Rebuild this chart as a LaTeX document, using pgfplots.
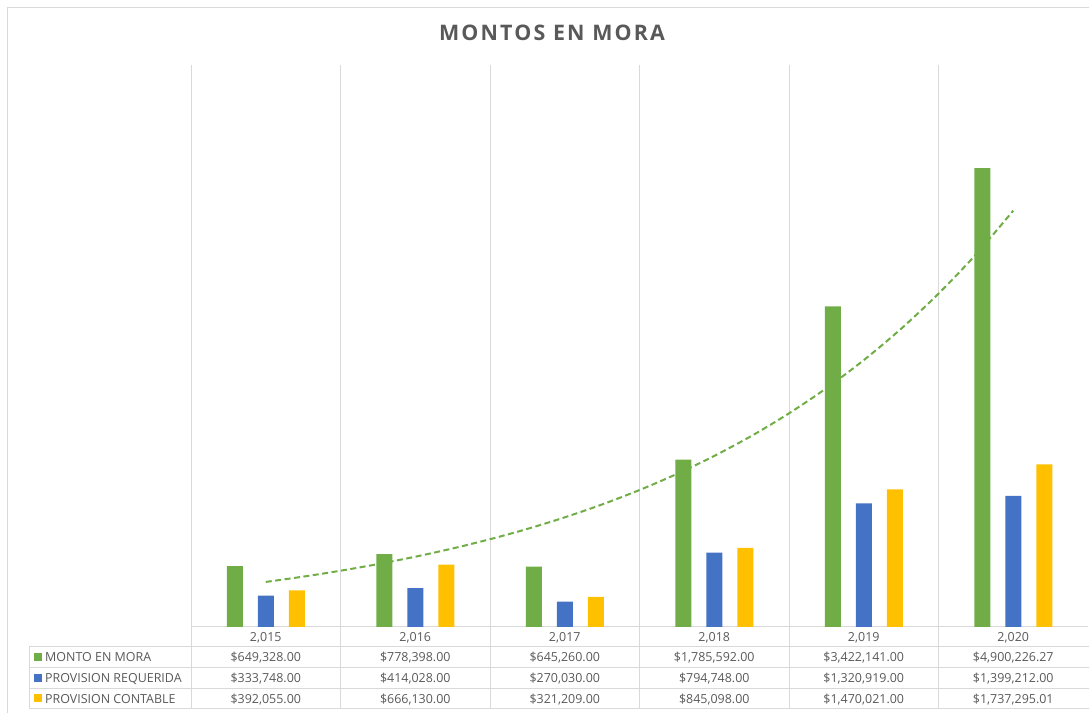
\documentclass[border=0pt]{standalone}
\usepackage{pgfplots}
\pgfplotsset{compat=1.18}
\usepackage{fontspec}
\setmainfont{Open Sans}
\newfontfamily\titlefont[LetterSpace=10.0]{Open Sans}
\definecolor{mgreen}{HTML}{70AD47}
\definecolor{mblue}{HTML}{4472C4}
\definecolor{mgold}{HTML}{FFC000}
\definecolor{gridgray}{HTML}{D9D9D9}
\definecolor{txtgray}{HTML}{595959}
\begin{document}
\begin{tikzpicture}[x=1bp,y=1bp]
\path[use as bounding box] (0,0) rectangle (1089,713);
\draw[gridgray, line width=1bp] (7.5,0) -- (7.5,705.5) -- (1089,705.5);
\node[text=txtgray, font=\titlefont\bfseries\fontsize{21.5}{25}\selectfont, anchor=base] at (552,672.5) {MONTOS EN MORA};
\begin{axis}[
  at={(191bp,86bp)}, anchor=south west,
  scale only axis, width=897bp, height=562bp,
  xmin=0.5, xmax=6.5, ymin=0, ymax=6000000,
  axis x line=bottom, axis y line=none,
  x axis line style={draw=gridgray, line width=1bp, -},
  ytick=\empty,
  xtick={1,2,3,4,5,6},
  xticklabels={{2,015},{2,016},{2,017},{2,018},{2,019},{2,020}},
  major tick length=0, minor tick length=0,
  minor xtick={0.5,1.5,2.5,3.5,4.5,5.5},
  xminorgrids, minor grid style={gridgray, line width=1bp},
  xticklabel style={anchor=base, yshift=-14.5bp, text=txtgray, font=\fontsize{12.5}{15}\selectfont},
  clip=false,
]
\addplot[ybar, bar width=16bp, bar shift=-31bp, fill=mgreen, draw=none] coordinates {(1,649328) (2,778398) (3,645260) (4,1785592) (5,3422141) (6,4900226.27)};
\addplot[ybar, bar width=16bp, bar shift=0bp, fill=mblue, draw=none] coordinates {(1,333748) (2,414028) (3,270030) (4,794748) (5,1320919) (6,1399212)};
\addplot[ybar, bar width=16bp, bar shift=31bp, fill=mgold, draw=none] coordinates {(1,392055) (2,666130) (3,321209) (4,845098) (5,1470021) (6,1737295.01)};
% exponential trendline of MONTO EN MORA (fitted values)
\addplot[mgreen, line width=2bp, dash pattern=on 6bp off 3.5bp, smooth, no markers] coordinates {
(1,480930) (1.25,537500) (1.5,600700) (1.75,671350) (2,750270) (2.25,838530) (2.5,937170) (2.75,1047400) (3,1170600) (3.25,1308300) (3.5,1462200) (3.75,1634000) (4,1826200) (4.25,2041000) (4.5,2281000) (4.75,2549300) (5,2849000) (5.25,3184100) (5.5,3558800) (5.75,3977000) (6,4445100)};
\end{axis}
% data table
\begin{scope}[gridgray, line width=1bp]
\draw (29,66) -- (1089,66);
\draw (29,45) -- (1089,45);
\draw (29,24) -- (1089,24);
\draw (29,4) -- (1089,4);
\draw (29,66) -- (29,4);
\foreach \X in {191,340.5,490,639.5,789,938.5} {\draw (\X,86) -- (\X,4);}
\end{scope}
\fill[mgreen] (34,52) rectangle (42,60);
\fill[mblue] (34,31) rectangle (42,39);
\fill[mgold] (34,10.5) rectangle (42,18.5);
\begin{scope}[every node/.style={text=txtgray, font=\fontsize{12.5}{15}\selectfont, inner sep=0pt}]
\node[anchor=base west] at (45,51) {MONTO EN MORA};
\node[anchor=base west] at (45,30) {PROVISION REQUERIDA};
\node[anchor=base west] at (45,9.5) {PROVISION CONTABLE};
\node[anchor=base] at (265.75,51) {\$649,328.00};
\node[anchor=base] at (415.25,51) {\$778,398.00};
\node[anchor=base] at (564.75,51) {\$645,260.00};
\node[anchor=base] at (714.25,51) {\$1,785,592.00};
\node[anchor=base] at (863.75,51) {\$3,422,141.00};
\node[anchor=base] at (1013.25,51) {\$4,900,226.27};
\node[anchor=base] at (265.75,30) {\$333,748.00};
\node[anchor=base] at (415.25,30) {\$414,028.00};
\node[anchor=base] at (564.75,30) {\$270,030.00};
\node[anchor=base] at (714.25,30) {\$794,748.00};
\node[anchor=base] at (863.75,30) {\$1,320,919.00};
\node[anchor=base] at (1013.25,30) {\$1,399,212.00};
\node[anchor=base] at (265.75,9.5) {\$392,055.00};
\node[anchor=base] at (415.25,9.5) {\$666,130.00};
\node[anchor=base] at (564.75,9.5) {\$321,209.00};
\node[anchor=base] at (714.25,9.5) {\$845,098.00};
\node[anchor=base] at (863.75,9.5) {\$1,470,021.00};
\node[anchor=base] at (1013.25,9.5) {\$1,737,295.01};
\end{scope}
\end{tikzpicture}
\end{document}
